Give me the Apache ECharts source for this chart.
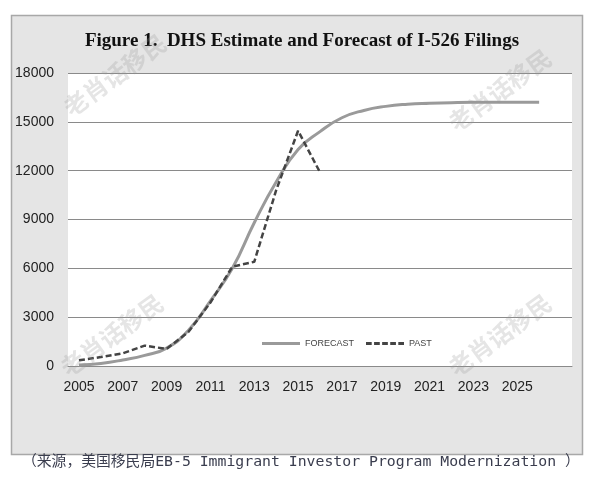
<!DOCTYPE html>
<html>
<head>
<meta charset="utf-8">
<script src="https://cdn.jsdelivr.net/npm/echarts@6/dist/echarts.min.js"></script>
<style>
html,body{margin:0;padding:0;background:#fff;}
#chart{width:604px;height:480px;}
</style>
</head>
<body>
<div id="chart"></div>
<script>
const years = ['2005','2006','2007','2008','2009','2010','2011','2012','2013','2014','2015','2016','2017','2018','2019','2020','2021','2022','2023','2024','2025','2026','2027'];
const forecast = [60, 160, 370, 650, 1100, 2200, 4000, 6000, 8800, 11300, 13300, 14400, 15250, 15700, 15950, 16080, 16140, 16180, 16200, 16200, 16200, 16200];
const past = [350, 550, 780, 1250, 1050, 2100, 3900, 6100, 6400, 10800, 14450, 11900];
const yTicks = [0, 3000, 6000, 9000, 12000, 15000, 18000];
const titleText = 'Figure 1.  DHS Estimate and Forecast of I-526 Filings';
const captionText = '（来源，美国移民局EB-5 Immigrant Investor Program Modernization ）';
const watermark = '老肖话移民';

const chart = echarts.init(document.getElementById('chart'), null, {renderer: 'canvas'});

const wm = (x, y) => ({
  type: 'text', x: x, y: y, rotation: Math.PI * 36 / 180, z: 100,
  style: {text: watermark, fill: 'rgba(150,150,150,0.25)', font: 'bold 24px "Noto Sans CJK SC"', textAlign: 'center', textVerticalAlign: 'middle'},
  silent: true
});

const solidIcon = 'path://M0,0 L40,0 L40,3 L0,3 Z';
const dashIcon = 'path://M0,0 L6,0 L6,3 L0,3 Z M8.5,0 L14.5,0 L14.5,3 L8.5,3 Z M17,0 L23,0 L23,3 L17,3 Z M25.5,0 L31.5,0 L31.5,3 L25.5,3 Z M34,0 L40,0 L40,3 L34,3 Z';

chart.setOption({
  animation: false,
  backgroundColor: '#ffffff',
  title: {
    text: titleText, left: 'center', top: 27,
    textStyle: {fontFamily: '"Liberation Serif", "Times New Roman", serif', fontWeight: 'bold', fontSize: 19, color: '#111'}
  },
  legend: {
    left: 257, top: 334, itemWidth: 38, itemHeight: 3, itemGap: 12,
    textStyle: {fontFamily: '"Liberation Sans Narrow", "Liberation Sans", sans-serif', fontSize: 9, color: '#444'},
    data: [{name: 'FORECAST', icon: solidIcon}, {name: 'PAST', icon: dashIcon}]
  },
  grid: {left: 68, right: 32, top: 73, bottom: 114, show: true, backgroundColor: '#ffffff', borderWidth: 0},
  xAxis: {
    type: 'category', data: years, boundaryGap: true,
    axisLine: {lineStyle: {color: '#8a8a8a', width: 1}},
    axisTick: {show: false},
    axisLabel: {
      interval: (i, v) => i % 2 === 0 && v !== '2027',
      margin: 14, fontSize: 14, color: '#222',
      fontFamily: '"Liberation Sans", Arial, sans-serif'
    }
  },
  yAxis: {
    type: 'value', min: yTicks[0], max: yTicks[yTicks.length - 1], interval: yTicks[1] - yTicks[0],
    axisLine: {show: false}, axisTick: {show: false},
    axisLabel: {margin: 14, fontSize: 14, color: '#222', fontFamily: '"Liberation Sans", Arial, sans-serif', formatter: v => String(v)},
    splitLine: {lineStyle: {color: '#8a8a8a', width: 1}}
  },
  series: [
    {
      name: 'FORECAST', type: 'line', data: forecast, smooth: 0.5,
      symbol: 'none', lineStyle: {color: '#9a9a9a', width: 3}, itemStyle: {color: '#9a9a9a'}, z: 3
    },
    {
      name: 'PAST', type: 'line', data: past, smooth: false,
      symbol: 'none', lineStyle: {color: '#444444', width: 2.5, type: [6, 3]}, itemStyle: {color: '#444444'}, z: 4
    }
  ],
  graphic: [
    {type: 'rect', z: -10, shape: {x: 11.5, y: 15.5, width: 571, height: 439},
     style: {fill: '#e5e5e5', stroke: '#a8a8a8', lineWidth: 1.5}, silent: true},
    wm(115, 75), wm(500, 90), wm(112, 335), wm(500, 335),
    {type: 'text', x: 22, y: 462, z: 100,
     style: {text: captionText, fill: '#3a3d4e', font: '14.8px "DejaVu Sans Mono", "Noto Sans CJK SC", monospace', textVerticalAlign: 'middle'}}
  ]
});
</script>
</body>
</html>
